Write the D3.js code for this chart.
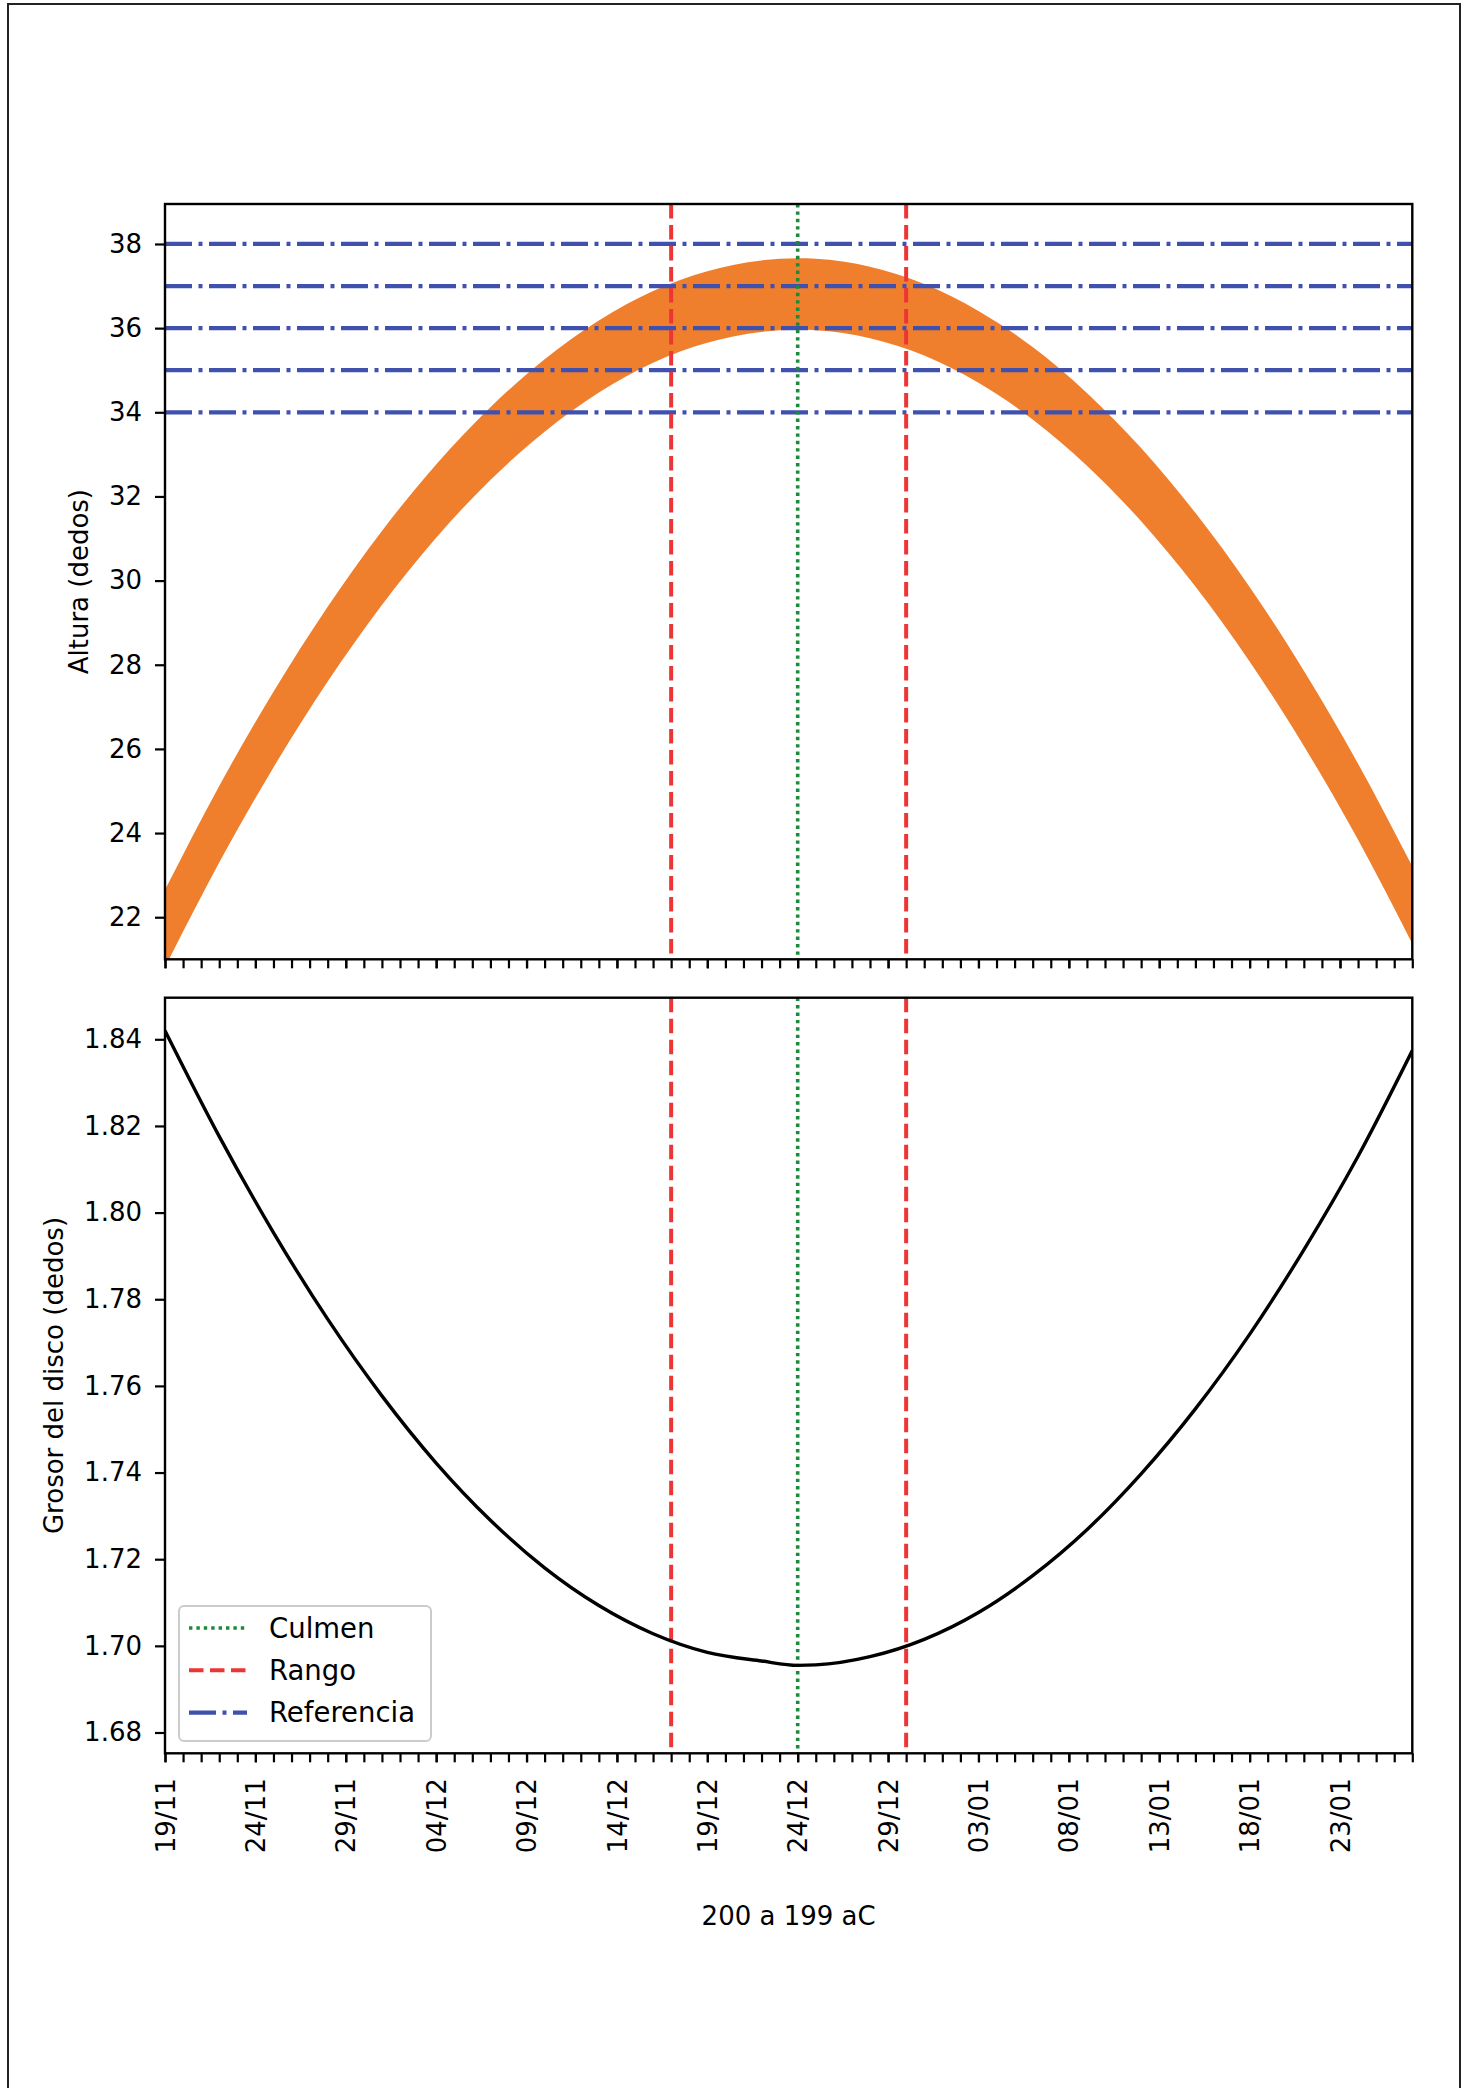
<!DOCTYPE html>
<html>
<head>
<meta charset="utf-8">
<script src="https://cdn.jsdelivr.net/npm/d3@7.9.0/dist/d3.min.js"></script>
<style>
  body { margin: 0; background: #fff; }
  svg { display: block; font-family: "DejaVu Sans", sans-serif; }
</style>
</head>
<body>
<svg id="chart" width="1467" height="2088"></svg>
<script>
// days counted from 19/11 (200 aC)
const days = [0, 3, 6, 9, 12, 15, 18, 21, 24, 27, 30, 33, 35, 36, 39, 42, 45, 48, 51, 54, 57, 60, 63, 66, 69];
// upper and lower edge of the orange band (dedos)
const alturaSup = [22.65, 25.12, 27.36, 29.38, 31.18, 32.76, 34.12, 35.26, 36.18, 36.88, 37.35, 37.61, 37.66, 37.65, 37.46, 37.05, 36.41, 35.55, 34.46, 33.15, 31.61, 29.85, 27.86, 25.65, 23.21];
const alturaInf = [20.81, 23.30, 25.56, 27.60, 29.42, 31.02, 32.39, 33.54, 34.47, 35.18, 35.65, 35.91, 35.96, 35.95, 35.76, 35.35, 34.70, 33.83, 32.73, 31.41, 29.86, 28.08, 26.07, 23.84, 21.37];
// disc thickness (dedos)
const grosor = [1.842, 1.8176, 1.7954, 1.7754, 1.7577, 1.7422, 1.729, 1.718, 1.7093, 1.7028, 1.6985, 1.6965, 1.6955, 1.6956, 1.6975, 1.7015, 1.7077, 1.7162, 1.7268, 1.7397, 1.7547, 1.7719, 1.7914, 1.813, 1.8374];

const referencias = [34, 35, 36, 37, 38];
const culmen = 35;          // 24/12
const rango = [28, 41];     // 17/12 and 30/12

const tickDays = [0, 5, 10, 15, 20, 25, 30, 35, 40, 45, 50, 55, 60, 65];
const tickLabels = ["19/11", "24/11", "29/11", "04/12", "09/12", "14/12", "19/12", "24/12", "29/12", "03/01", "08/01", "13/01", "18/01", "23/01"];
const yTicksTop = [22, 24, 26, 28, 30, 32, 34, 36, 38];
const yTicksBot = [1.68, 1.70, 1.72, 1.74, 1.76, 1.78, 1.80, 1.82, 1.84];

const legendItems = ["Culmen", "Rango", "Referencia"];

const colOrange = "#f07f2d";
const colBlue = "#3f51ad";
const colRed = "#ee3535";
const colGreen = "#1b8a3a";

const svg = d3.select("#chart");

// outer frame of the figure
svg.append("path")
    .attr("d", "M8,2090 L8,4 L1460,4 L1460,2090")
    .attr("fill", "none")
    .attr("stroke", "#222")
    .attr("stroke-width", 2);

const left = 165, right = 1412.3;
const top1 = 204, bot1 = 959.3;
const top2 = 997.7, bot2 = 1753.3;

const x = d3.scaleLinear().domain([0, 69]).range([left, right]);
const yTop = d3.scaleLinear().domain([21.0, 38.95]).range([bot1, top1]);
const yBot = d3.scaleLinear().domain([1.6752, 1.8496]).range([bot2, top2]);

const data = days.map((d, i) => ({ d, sup: alturaSup[i], inf: alturaInf[i], g: grosor[i] }));

const defs = svg.append("defs");
defs.append("clipPath").attr("id", "clipTop")
    .append("rect").attr("x", left).attr("y", top1).attr("width", right - left).attr("height", bot1 - top1);
defs.append("clipPath").attr("id", "clipBot")
    .append("rect").attr("x", left).attr("y", top2).attr("width", right - left).attr("height", bot2 - top2);

// line styles (also used by the legend)
const styles = {
    Culmen: { c: colGreen, w: 3.6, dash: "3.4,4" },
    Rango: { c: colRed, w: 4, dash: "14.5,6.5" },
    Referencia: { c: colBlue, w: 4.2, dash: "27,6.5,4,6.5" }
};

// ---------- top panel ----------
const gTop = svg.append("g").attr("clip-path", "url(#clipTop)");

gTop.append("path")
    .datum(data)
    .attr("fill", colOrange)
    .attr("d", d3.area()
        .x(d => x(d.d))
        .y0(d => yTop(d.inf))
        .y1(d => yTop(d.sup))
        .curve(d3.curveMonotoneX));

gTop.selectAll(".ref")
    .data(referencias)
    .enter().append("line")
    .attr("x1", left).attr("x2", right)
    .attr("y1", d => yTop(d)).attr("y2", d => yTop(d))
    .attr("stroke", styles.Referencia.c)
    .attr("stroke-width", styles.Referencia.w)
    .attr("stroke-dasharray", styles.Referencia.dash);

function vlines(g, y0, y1) {
    g.selectAll(".rango")
        .data(rango)
        .enter().append("line")
        .attr("x1", d => x(d)).attr("x2", d => x(d))
        .attr("y1", y0).attr("y2", y1)
        .attr("stroke", styles.Rango.c)
        .attr("stroke-width", styles.Rango.w)
        .attr("stroke-dasharray", styles.Rango.dash);
    g.append("line")
        .attr("x1", x(culmen)).attr("x2", x(culmen))
        .attr("y1", y0).attr("y2", y1)
        .attr("stroke", styles.Culmen.c)
        .attr("stroke-width", styles.Culmen.w)
        .attr("stroke-dasharray", styles.Culmen.dash);
}
vlines(gTop, top1, bot1);

// ---------- bottom panel ----------
const gBot = svg.append("g").attr("clip-path", "url(#clipBot)");
vlines(gBot, top2, bot2);

gBot.append("path")
    .datum(data)
    .attr("fill", "none")
    .attr("stroke", "#000")
    .attr("stroke-width", 3.4)
    .attr("d", d3.line()
        .x(d => x(d.d))
        .y(d => yBot(d.g))
        .curve(d3.curveMonotoneX));

// ---------- axes ----------
function styleAxis(g) {
    g.select(".domain").remove();
    g.selectAll(".tick line").attr("stroke", "#000").attr("stroke-width", 2.2);
    g.selectAll(".tick text").attr("fill", "#000").style("font-size", "26px").style("font-family", "DejaVu Sans");
}

// day ticks and labelled ticks on both panels
[bot1, bot2].forEach((yy, k) => {
    svg.append("g")
        .attr("transform", `translate(0,${yy})`)
        .call(d3.axisBottom(x).tickValues(d3.range(0, 70)).tickSize(9).tickFormat(""))
        .call(styleAxis);
    const ax = svg.append("g")
        .attr("transform", `translate(0,${yy})`)
        .call(d3.axisBottom(x).tickValues(tickDays).tickSize(9).tickSizeOuter(0)
            .tickFormat((d, i) => k === 1 ? tickLabels[i] : ""))
        .call(styleAxis);
    if (k === 1) {
        ax.selectAll(".tick text")
            .attr("transform", "rotate(-90)")
            .attr("x", -25)
            .attr("y", 0)
            .attr("dy", "0.35em")
            .style("text-anchor", "end");
    }
});

svg.append("g")
    .attr("transform", `translate(${left},0)`)
    .call(d3.axisLeft(yTop).tickValues(yTicksTop).tickSize(10).tickPadding(13).tickFormat(d3.format("d")))
    .call(styleAxis);

svg.append("g")
    .attr("transform", `translate(${left},0)`)
    .call(d3.axisLeft(yBot).tickValues(yTicksBot).tickSize(10).tickPadding(13).tickFormat(d3.format(".2f")))
    .call(styleAxis);

// axes frames
[[top1, bot1], [top2, bot2]].forEach(([a, b]) => {
    svg.append("rect")
        .attr("x", left).attr("y", a)
        .attr("width", right - left).attr("height", b - a)
        .attr("fill", "none")
        .attr("stroke", "#000")
        .attr("stroke-width", 2.4);
});

// axis titles
svg.append("text")
    .attr("transform", `translate(88,${(top1 + bot1) / 2}) rotate(-90)`)
    .attr("text-anchor", "middle")
    .style("font-size", "26px")
    .text("Altura (dedos)");

svg.append("text")
    .attr("transform", `translate(63,${(top2 + bot2) / 2}) rotate(-90)`)
    .attr("text-anchor", "middle")
    .style("font-size", "26px")
    .text("Grosor del disco (dedos)");

svg.append("text")
    .attr("x", (left + right) / 2)
    .attr("y", 1925)
    .attr("text-anchor", "middle")
    .style("font-size", "26px")
    .text("200 a 199 aC");

// ---------- legend ----------
const legend = svg.append("g").attr("transform", "translate(179,1606)");
legend.append("rect")
    .attr("width", 252).attr("height", 135)
    .attr("rx", 5)
    .attr("fill", "rgba(255,255,255,0.8)")
    .attr("stroke", "#cccccc")
    .attr("stroke-width", 2);

const rows = legend.selectAll(".row")
    .data(legendItems)
    .enter().append("g")
    .attr("transform", (d, i) => `translate(0,${22 + i * 42.3})`);
rows.append("line")
    .attr("x1", 10).attr("x2", 68)
    .attr("stroke", d => styles[d].c)
    .attr("stroke-width", d => styles[d].w)
    .attr("stroke-dasharray", d => styles[d].dash);
rows.append("text")
    .attr("x", 90)
    .attr("dy", "0.35em")
    .style("font-size", "27.5px")
    .text(d => d);
</script>
</body>
</html>
